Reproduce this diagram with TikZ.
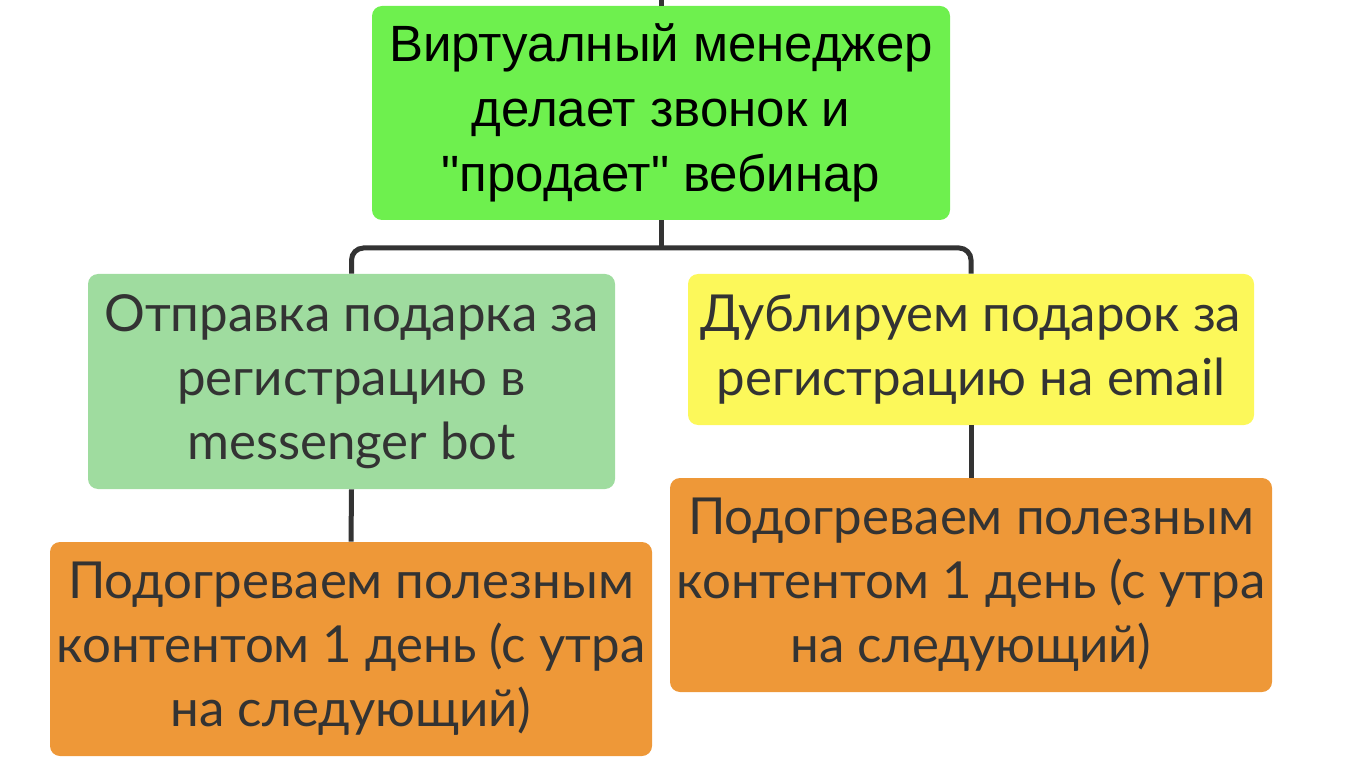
\documentclass[tikz,border=0pt]{standalone}
\usepackage{fontspec}
\setmainfont{Lato}
\newfontfamily\topfont{Liberation Sans}
\definecolor{bright}{HTML}{6EF04E}
\definecolor{pale}{HTML}{9FDC9F}
\definecolor{lemon}{HTML}{FCF85A}
\definecolor{amber}{HTML}{EE9838}
\definecolor{ink}{HTML}{333333}
\tikzset{
  stepbox/.style={rounded corners=5pt, align=center, text=ink, inner sep=0pt,
    font=\fontsize{25.5}{32}\selectfont},
  conn/.style={draw=ink, line width=2.5pt}
}
\begin{document}
\begin{tikzpicture}[x=0.5pt, y=-0.5pt]
      \useasboundingbox (0,0) rectangle (1348,764);
      % Boxes
      \node[stepbox, fill=bright, text=black, minimum width=289pt, minimum height=107pt,
        font=\topfont\fontsize{25.5}{32.5}\selectfont] (call) at (661,113)
        {Виртуалный менеджер\\делает звонок и\\"продает" вебинар};
      \node[stepbox, fill=pale, minimum width=263.5pt, minimum height=107.5pt] (gift) at (351.5,381.5)
        {Отправка подарка за\\регистрацию в\\messenger bot};
      \node[stepbox, fill=lemon, minimum width=283pt, minimum height=75.5pt] (mail) at (971,349.5)
        {Дублируем подарок за\\регистрацию на email};
      \node[stepbox, fill=amber, minimum width=301pt, minimum height=107pt] (warmA) at (351,649)
        {Подогреваем полезным\\контентом 1 день (с утра\\на следующий)};
      \node[stepbox, fill=amber, minimum width=301pt, minimum height=107pt] (warmB) at (971,585)
        {Подогреваем полезным\\контентом 1 день (с утра\\на следующий)};

      % Connectors
      \coordinate (entry) at (661,0);
      \coordinate (bus) at (661,248);
      \draw[conn] (entry) -- (call.north);
      \draw[conn] (call.south) -- (bus);
      \draw[conn, rounded corners=6pt] (gift.north) |- (bus) -| (mail.north);
      \draw[conn] (gift.south) -- (warmA.north);
      \draw[conn] (mail.south) -- (warmB.north);
    \end{tikzpicture}
\end{document}
